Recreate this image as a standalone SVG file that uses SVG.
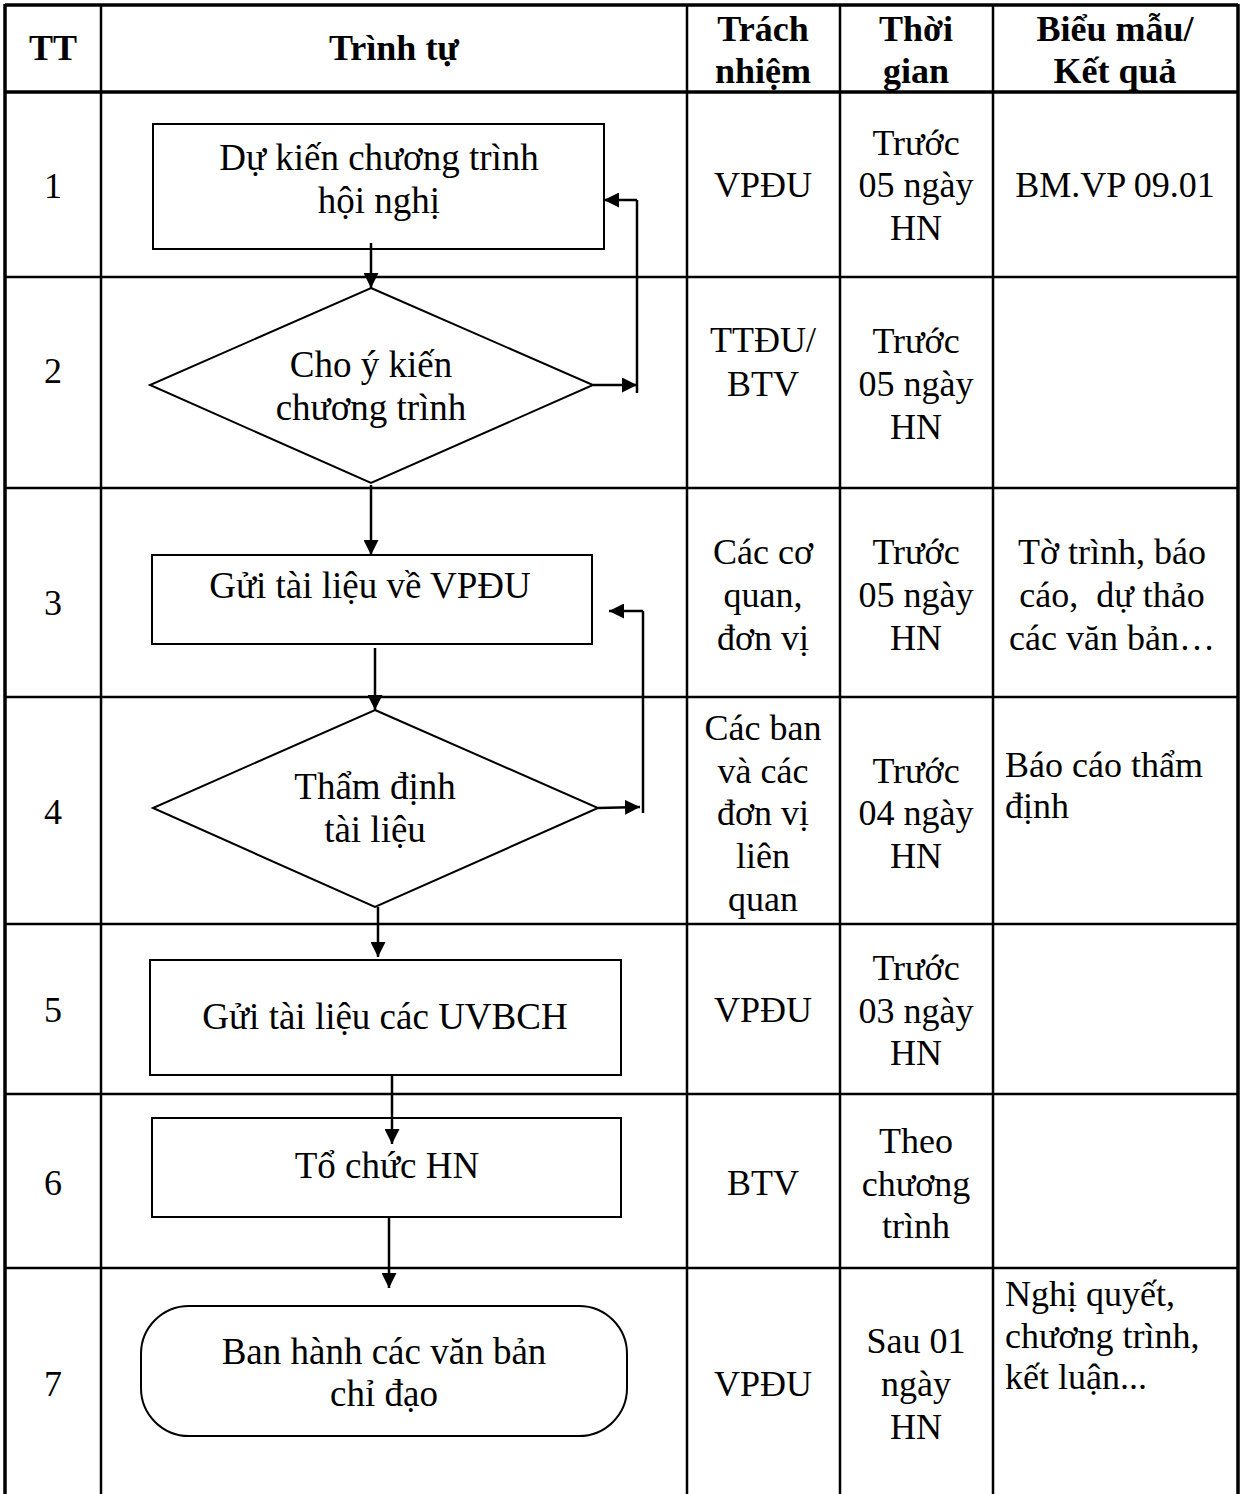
<svg xmlns="http://www.w3.org/2000/svg" width="1243" height="1494" viewBox="0 0 1243 1494">
<defs>
<style>
.t{font-family:"Liberation Serif","Times New Roman",serif;font-size:36px;fill:#000;text-anchor:middle}
.f{font-size:37px}
.l{text-anchor:start}
.b{font-weight:bold}
.grid{stroke:#000;stroke-width:2.5;fill:none}
.thick{stroke:#000;stroke-width:3.5;fill:none}
.shape{stroke:#000;stroke-width:2;fill:#fff}
.conn{stroke:#000;stroke-width:2.5;fill:none}
.arr{marker-end:url(#ah)}
</style>
<marker id="ah" viewBox="0 0 10 10" refX="10" refY="5" markerWidth="15" markerHeight="15" markerUnits="userSpaceOnUse" orient="auto">
<path d="M0,0 L10,5 L0,10 z" fill="#000"/>
</marker>
</defs>
<rect width="1243" height="1494" fill="#fff"/>
<g id="table">
<line class="thick" x1="5" y1="5" x2="1238" y2="5"/>
<line class="thick" x1="5" y1="92" x2="1238" y2="92"/>
<line class="grid" x1="5" y1="277" x2="1238" y2="277"/>
<line class="grid" x1="5" y1="488" x2="1238" y2="488"/>
<line class="grid" x1="5" y1="697" x2="1238" y2="697"/>
<line class="grid" x1="5" y1="924" x2="1238" y2="924"/>
<line class="grid" x1="5" y1="1094" x2="1238" y2="1094"/>
<line class="grid" x1="5" y1="1268" x2="1238" y2="1268"/>
<line class="thick" x1="5" y1="4" x2="5" y2="1494"/>
<line class="grid" x1="101" y1="4" x2="101" y2="1494"/>
<line class="grid" x1="687" y1="4" x2="687" y2="1494"/>
<line class="grid" x1="840" y1="4" x2="840" y2="1494"/>
<line class="grid" x1="993" y1="4" x2="993" y2="1494"/>
<line class="thick" x1="1238" y1="4" x2="1238" y2="1494"/>
</g>
<g id="header">
<text class="t b" x="53" y="60">TT</text>
<text class="t b" x="394" y="60">Trình tự</text>
<text class="t b" x="763" y="41">Trách</text>
<text class="t b" x="763" y="83">nhiệm</text>
<text class="t b" x="916" y="41">Thời</text>
<text class="t b" x="916" y="83">gian</text>
<text class="t b" x="1115" y="41">Biểu mẫu/</text>
<text class="t b" x="1115" y="83">Kết quả</text>
</g>
<g id="col-tt">
<text class="t" x="53" y="198">1</text>
<text class="t" x="53" y="383">2</text>
<text class="t" x="53" y="615">3</text>
<text class="t" x="53" y="824">4</text>
<text class="t" x="53" y="1022">5</text>
<text class="t" x="53" y="1195">6</text>
<text class="t" x="53" y="1396">7</text>
</g>
<g id="col-trach-nhiem">
<text class="t" x="763" y="197">VPĐU</text>
<text class="t" x="763" y="352">TTĐU/</text>
<text class="t" x="763" y="396">BTV</text>
<text class="t" x="763" y="564">Các cơ</text>
<text class="t" x="763" y="607">quan,</text>
<text class="t" x="763" y="650">đơn vị</text>
<text class="t" x="763" y="740">Các ban</text>
<text class="t" x="763" y="783">và các</text>
<text class="t" x="763" y="825">đơn vị</text>
<text class="t" x="763" y="868">liên</text>
<text class="t" x="763" y="911">quan</text>
<text class="t" x="763" y="1022">VPĐU</text>
<text class="t" x="763" y="1195">BTV</text>
<text class="t" x="763" y="1396">VPĐU</text>
</g>
<g id="col-thoi-gian">
<text class="t" x="916" y="155">Trước</text>
<text class="t" x="916" y="197">05 ngày</text>
<text class="t" x="916" y="240">HN</text>
<text class="t" x="916" y="353">Trước</text>
<text class="t" x="916" y="396">05 ngày</text>
<text class="t" x="916" y="439">HN</text>
<text class="t" x="916" y="564">Trước</text>
<text class="t" x="916" y="607">05 ngày</text>
<text class="t" x="916" y="650">HN</text>
<text class="t" x="916" y="783">Trước</text>
<text class="t" x="916" y="825">04 ngày</text>
<text class="t" x="916" y="868">HN</text>
<text class="t" x="916" y="980">Trước</text>
<text class="t" x="916" y="1023">03 ngày</text>
<text class="t" x="916" y="1065">HN</text>
<text class="t" x="916" y="1153">Theo</text>
<text class="t" x="916" y="1196">chương</text>
<text class="t" x="916" y="1238">trình</text>
<text class="t" x="916" y="1353">Sau 01</text>
<text class="t" x="916" y="1396">ngày</text>
<text class="t" x="916" y="1439">HN</text>
</g>
<g id="col-bieu-mau">
<text class="t" x="1115" y="197">BM.VP 09.01</text>
<text class="t" x="1112" y="564">Tờ trình, báo</text>
<text class="t" x="1112" y="607" xml:space="preserve">cáo,  dự thảo</text>
<text class="t" x="1112" y="650">các văn bản…</text>
<text class="t l" x="1005" y="777">Báo cáo thẩm</text>
<text class="t l" x="1005" y="818">định</text>
<text class="t l" x="1005" y="1306">Nghị quyết,</text>
<text class="t l" x="1005" y="1348">chương trình,</text>
<text class="t l" x="1005" y="1389">kết luận...</text>
</g>
<g id="node1">
<rect class="shape" x="153" y="124" width="451" height="125"/>
<text class="t f" x="379" y="170">Dự kiến chương trình</text>
<text class="t f" x="379" y="213">hội nghị</text>
</g>
<g id="node2">
<polygon class="shape" points="371,288 593,385 371,483 150,385"/>
<text class="t f" x="371" y="377">Cho ý kiến</text>
<text class="t f" x="371" y="420">chương trình</text>
</g>
<g id="node3">
<rect class="shape" x="152" y="555" width="440" height="89"/>
<text class="t f" x="370" y="598">Gửi tài liệu về VPĐU</text>
</g>
<g id="node4">
<polygon class="shape" points="375,710 598,808 375,907 153,808"/>
<text class="t f" x="375" y="799">Thẩm định</text>
<text class="t f" x="375" y="842">tài liệu</text>
</g>
<g id="node5">
<rect class="shape" x="150" y="960" width="471" height="115"/>
<text class="t f" x="385" y="1029">Gửi tài liệu các UVBCH</text>
</g>
<g id="node6">
<rect class="shape" x="152" y="1118" width="469" height="99"/>
<text class="t f" x="387" y="1178">Tổ chức HN</text>
</g>
<g id="node7">
<rect class="shape" x="141" y="1306" width="486" height="130" rx="48" ry="48"/>
<text class="t f" x="384" y="1364">Ban hành các văn bản</text>
<text class="t f" x="384" y="1406">chỉ đạo</text>
</g>
<g id="connectors">
<line class="conn arr" x1="371" y1="243" x2="371" y2="288"/>
<line class="conn arr" x1="593" y1="385" x2="637" y2="385"/>
<polyline class="conn" points="637,393 637,200"/>
<line class="conn arr" x1="637" y1="200" x2="604" y2="200"/>
<line class="conn arr" x1="371" y1="485" x2="371" y2="555"/>
<line class="conn arr" x1="375" y1="648" x2="375" y2="710"/>
<line class="conn arr" x1="598" y1="808" x2="640" y2="807"/>
<polyline class="conn" points="643,813 643,611"/>
<line class="conn arr" x1="643" y1="611" x2="609" y2="611"/>
<line class="conn arr" x1="378" y1="907" x2="378" y2="957"/>
<line class="conn arr" x1="392" y1="1075" x2="392" y2="1144"/>
<line class="conn arr" x1="389" y1="1217" x2="389" y2="1288"/>
</g>
</svg>
